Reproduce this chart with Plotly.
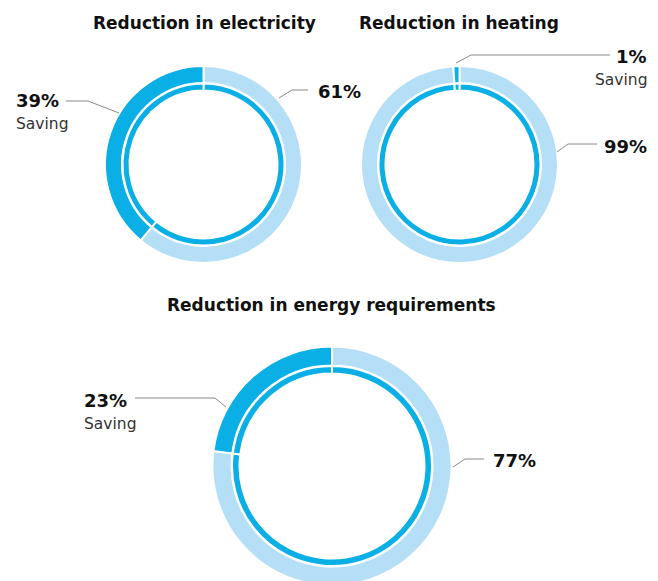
import plotly.graph_objects as go

# data
slices = ["Remaining", "Saving"]
titles = ["Reduction in electricity", "Reduction in heating", "Reduction in energy requirements"]
remaining = [61, 99, 77]
saving = [39, 1, 23]
saving_label = "Saving"

# the page body has an 8px margin; the bottom donut runs a little past the window edge
OFF = 8
W, H = 658 - OFF, 590 - OFF
LIGHT = "#B5DFF6"
DARK = "#0AAFE6"
LINE_W = 2
BOLD = "DejaVu Sans"
REG = "DejaVu Sans"


def px(x):
    # screen pixel -> paper
    return (x - OFF) / W


def py(y):
    return 1 - (y - OFF) / H


def domain(cx, cy, r):
    return dict(x=[max(0, px(cx - r)), min(1, px(cx + r))],
                y=[max(0, py(cy + r)), min(1, py(cy - r))])


# geometry for each donut: centre, visible outer radius, outer ring, gap, inner ring
rings = [
    dict(cx=203.5, cy=164.5, r=97.5, t1=15, gap=2.5, t2=5),
    dict(cx=459.5, cy=164.5, r=97.5, t1=15, gap=2.5, t2=5),
    dict(cx=332, cy=466, r=118.5, t1=17, gap=2.5, t2=5.5),
]

fig = go.Figure()

for i, g in enumerate(rings):
    vals = [remaining[i], saving[i]]
    # outer ring: remaining / saving
    R1 = g["r"] + LINE_W / 2
    hole1 = (g["r"] - g["t1"] - LINE_W / 2) / R1
    fig.add_trace(go.Pie(
        labels=slices, values=vals, sort=False, direction="clockwise", rotation=0,
        hole=hole1, marker=dict(colors=[LIGHT, DARK], line=dict(color="white", width=LINE_W)),
        textinfo="none", hoverinfo="label+percent", showlegend=False,
        domain=domain(g["cx"], g["cy"], R1),
    ))
    # thin inner ring
    R2 = g["r"] - g["t1"] - g["gap"] + LINE_W / 2
    hole2 = (g["r"] - g["t1"] - g["gap"] - g["t2"] - LINE_W / 2) / R2
    fig.add_trace(go.Pie(
        labels=slices, values=vals, sort=False, direction="clockwise", rotation=0,
        hole=hole2, marker=dict(colors=[DARK, DARK], line=dict(color="white", width=LINE_W)),
        textinfo="none", hoverinfo="label+percent", showlegend=False,
        domain=domain(g["cx"], g["cy"], R2),
    ))

# titles
title_pos = [(204, 23), (459, 23), (331, 305)]
annotations = []
for t, (x, y) in zip(titles, title_pos):
    annotations.append(dict(
        text=f"<b>{t}</b>", x=px(x), y=py(y), xref="paper", yref="paper", showarrow=False,
        xanchor="center", yanchor="middle",
        font=dict(family=BOLD, size=17, color="#111"),
    ))

# value labels: (chart, which, x, y, anchor)
label_pos = [
    (0, "saving", 14, 100, "left"),
    (0, "remaining", 316, 92, "left"),
    (1, "saving", 649, 56, "right"),
    (1, "remaining", 602, 146, "left"),
    (2, "saving", 82, 400, "left"),
    (2, "remaining", 491, 460, "left"),
]
for c, which, x, y, anchor in label_pos:
    v = saving[c] if which == "saving" else remaining[c]
    annotations.append(dict(
        text=f"<b>{v}%</b>", x=px(x), y=py(y), xref="paper", yref="paper", showarrow=False,
        xanchor=anchor, yanchor="middle",
        font=dict(family=BOLD, size=18, color="#111"),
    ))
    if which == "saving":
        annotations.append(dict(
            text=saving_label, x=px(x), y=py(y + 24), xref="paper", yref="paper",
            showarrow=False, xanchor=anchor, yanchor="middle",
            font=dict(family=REG, size=15.5, color="#333"),
        ))

# leader lines
leaders = [
    [(66, 101), (88, 101), (119, 113)],
    [(308, 90), (292, 90), (279, 98)],
    [(610, 55), (471, 55), (456, 63)],
    [(597, 144), (568, 144), (557, 152)],
    [(135, 398), (215, 398), (226, 407)],
    [(484, 459), (465, 459), (453, 467)],
]
shapes = []
for pts in leaders:
    path = "M " + " L ".join(f"{px(x)},{py(y)}" for x, y in pts)
    shapes.append(dict(type="path", path=path, xref="paper", yref="paper",
                       line=dict(color="#8a8a8a", width=1)))

fig.update_layout(
    width=W, height=H,
    margin=dict(l=0, r=0, t=0, b=0),
    paper_bgcolor="white", plot_bgcolor="white",
    annotations=annotations, shapes=shapes,
    showlegend=False,
)

fig.write_html("out.html")
